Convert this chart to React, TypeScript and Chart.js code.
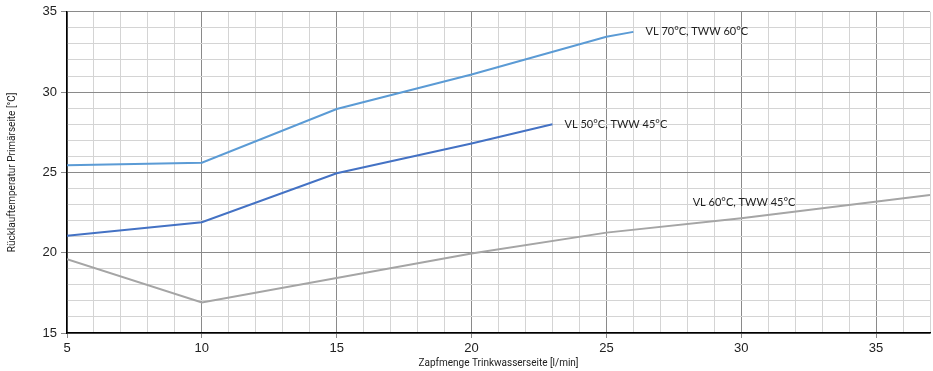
import React, { useEffect, useRef } from "react";
import { Chart, registerables } from "chart.js";

Chart.register(...registerables);

const seriesNames = ["VL 70°C, TWW 60°C", "VL 50°C, TWW 45°C", "VL 60°C, TWW 45°C"];
const seriesColors = ["#5B9BD5", "#4472C4", "#A5A5A5"];

const xVL70 = [5, 10, 15, 20, 25, 26];
const yVL70 = [25.45, 25.6, 28.95, 31.1, 33.45, 33.75];

const xVL50 = [5, 10, 15, 20, 23];
const yVL50 = [21.05, 21.9, 24.95, 26.8, 28.0];

const xVL60 = [5, 10, 20, 25, 30, 37];
const yVL60 = [19.6, 16.9, 19.95, 21.25, 22.15, 23.6];

// label anchor (data coords, left-middle of text)
const labelX = [26.45, 23.45, 28.2];
const labelY = [33.8, 28.0, 23.15];

const xTitle = "Zapfmenge Trinkwasserseite [l/min]";
const yTitle = "Rücklauftemperatur Primärseite [°C]";

const toPts = (xs: number[], ys: number[]) => xs.map((x, i) => ({ x, y: ys[i] }));

const labelPlugin = {
  id: "seriesLabels",
  afterDatasetsDraw(chart: any) {
    const { ctx, scales } = chart;
    ctx.save();
    ctx.font = "11px Lato, 'Open Sans', sans-serif";
    ctx.fillStyle = "#222";
    ctx.textBaseline = "middle";
    ctx.textAlign = "left";
    seriesNames.forEach((n, i) => {
      ctx.fillText(n, scales.x.getPixelForValue(labelX[i]), scales.y.getPixelForValue(labelY[i]));
    });
    ctx.restore();
  },
};

export default function App() {
  const ref = useRef<HTMLCanvasElement>(null);
  useEffect(() => {
    if (!ref.current) return;
    const datasets = [
      toPts(xVL70, yVL70),
      toPts(xVL50, yVL50),
      toPts(xVL60, yVL60),
    ].map((d, i) => ({
      label: seriesNames[i],
      data: d,
      borderColor: seriesColors[i],
      backgroundColor: seriesColors[i],
      borderWidth: 2,
      pointRadius: 0,
      tension: 0,
    }));
    const chart = new Chart(ref.current, {
      type: "line",
      data: { datasets },
      plugins: [labelPlugin],
      options: {
        animation: false,
        responsive: false,
        layout: { padding: { top: 9, right: 0, left: 0, bottom: 0 } },
        plugins: { legend: { display: false }, tooltip: { enabled: false } },
        scales: {
          x: {
            type: "linear",
            min: 5,
            max: 37,
            afterFit: (s: any) => { s.height = 38; },
            ticks: {
              stepSize: 1,
              autoSkip: false,
              maxRotation: 0,
              padding: 3,
              color: "#222",
              font: { family: "'Liberation Sans', Arial, sans-serif", size: 13 },
              callback: (v: any) => (Number(v) % 5 === 0 ? String(v) : ""),
            },
            grid: {
              color: (c: any) => (c.tick && c.tick.value % 5 === 0 ? "#8a8a8a" : "#d4d4d4"),
              tickColor: (c: any) => (c.tick && c.tick.value % 5 === 0 ? "#8a8a8a" : "rgba(0,0,0,0)"),
              tickLength: 5,
              lineWidth: 1,
            },
            border: { color: "#000", width: 1.5 },
            title: {
              display: true,
              text: xTitle,
              color: "#222",
              font: { family: "Roboto, 'Liberation Sans', sans-serif", size: 10 },
              padding: { top: 0, bottom: 2 },
            },
          },
          y: {
            type: "linear",
            min: 15,
            max: 35,
            afterFit: (s: any) => { s.width = 67; },
            ticks: {
              stepSize: 1,
              autoSkip: false,
              padding: 4,
              color: "#222",
              font: { family: "'Liberation Sans', Arial, sans-serif", size: 13 },
              callback: (v: any) => (Number(v) % 5 === 0 ? String(v) : ""),
            },
            grid: {
              color: (c: any) => (c.tick && c.tick.value % 5 === 0 ? "#8a8a8a" : "#d4d4d4"),
              tickColor: (c: any) => (c.tick && c.tick.value % 5 === 0 ? "#8a8a8a" : "rgba(0,0,0,0)"),
              tickLength: 6,
              lineWidth: 1,
            },
            border: { color: "#000", width: 1.5 },
            title: {
              display: true,
              text: yTitle,
              color: "#222",
              font: { family: "Roboto, 'Liberation Sans', sans-serif", size: 10 },
              padding: { top: 6, bottom: 0 },
            },
          },
        },
      },
    });
    return () => chart.destroy();
  }, []);
  return (
    <div style={{ position: "fixed", left: 0, top: 0, width: 933, height: 371, background: "#fff" }}>
      <canvas ref={ref} width={933} height={371} style={{ width: 933, height: 371 }} />
    </div>
  );
}
